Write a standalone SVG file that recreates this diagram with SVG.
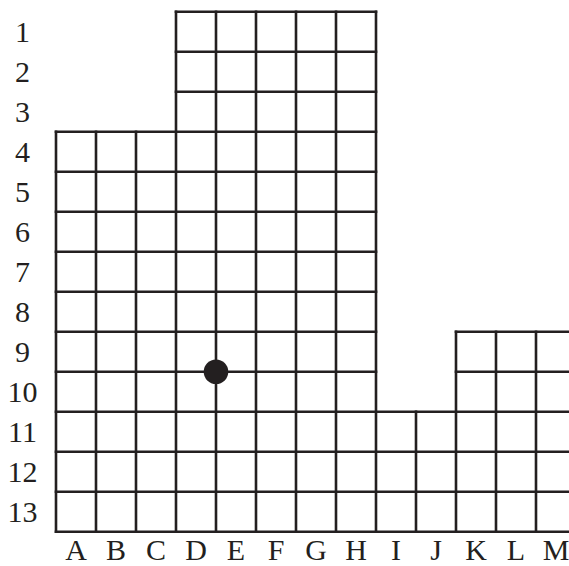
<svg xmlns="http://www.w3.org/2000/svg" width="569" height="566" viewBox="0 0 569 566">
<style>
.g{fill:none;stroke:#231f20;stroke-width:2.6;stroke-linecap:square}
.t{font-family:"Liberation Serif","Times New Roman",serif;font-size:30px;fill:#231f20;text-anchor:middle}
</style>
<rect width="569" height="566" fill="#fff"/>
<g id="grid" class="g">
<path d="M56,131.7V531.7M96,131.7V531.7M136,131.7V531.7"/>
<path d="M176,11.7V531.7M216,11.7V531.7M256,11.7V531.7M296,11.7V531.7M336,11.7V531.7M376,11.7V531.7"/>
<path d="M416,411.7V531.7"/>
<path d="M456,331.7V531.7M496,331.7V531.7M536,331.7V531.7"/>
<path d="M176,11.7H376M176,51.7H376M176,91.7H376"/>
<path d="M56,131.7H376M56,171.7H376M56,211.7H376M56,251.7H376M56,291.7H376"/>
<path d="M56,331.7H376M456,331.7H576M56,371.7H376M456,371.7H576"/>
<path d="M56,411.7H576M56,451.7H576M56,491.7H576M56,531.7H576"/>
</g>
<g id="dot"><circle cx="216" cy="371.7" r="12.3" fill="#231f20"/></g>
<g id="rows" class="t">
<text x="22.5" y="42.3">1</text>
<text x="22.5" y="82.3">2</text>
<text x="22.5" y="122.3">3</text>
<text x="22.5" y="162.3">4</text>
<text x="22.5" y="202.3">5</text>
<text x="22.5" y="242.3">6</text>
<text x="22.5" y="282.3">7</text>
<text x="22.5" y="322.3">8</text>
<text x="22.5" y="362.3">9</text>
<text x="22.5" y="402.3">10</text>
<text x="22.5" y="442.3">11</text>
<text x="22.5" y="482.3">12</text>
<text x="22.5" y="522.3">13</text>
</g>
<g id="cols" class="t">
<text x="76" y="560">A</text>
<text x="116" y="560">B</text>
<text x="156" y="560">C</text>
<text x="196" y="560">D</text>
<text x="236" y="560">E</text>
<text x="276" y="560">F</text>
<text x="316" y="560">G</text>
<text x="356" y="560">H</text>
<text x="396" y="560">I</text>
<text x="436" y="560">J</text>
<text x="476" y="560">K</text>
<text x="516" y="560">L</text>
<text x="556" y="560">M</text>
</g>
</svg>
